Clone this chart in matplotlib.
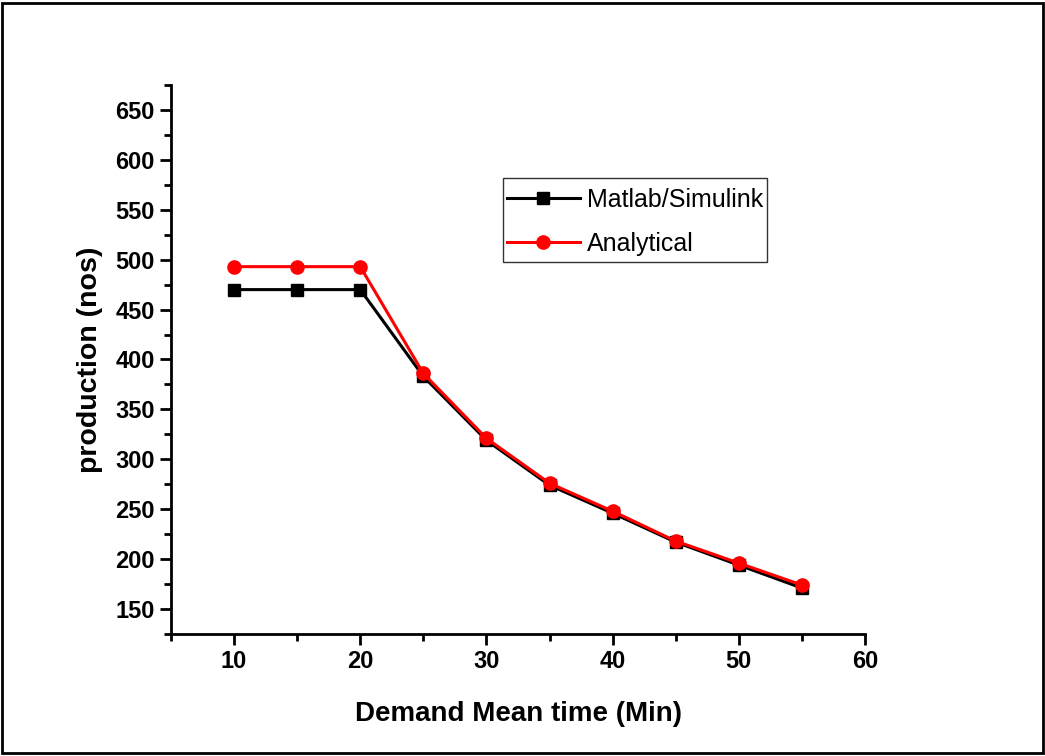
import matplotlib
matplotlib.use("Agg")
import matplotlib.pyplot as plt
from matplotlib.patches import Rectangle
from matplotlib.ticker import MultipleLocator

demand_time = [10, 15, 20, 25, 30, 35, 40, 45, 50, 55]
matlab = [470, 470, 470, 383, 319, 274, 246, 217, 194, 171]
analytical = [493, 493, 493, 386, 321, 276, 248, 218, 196, 174]

plt.rcParams['font.family'] = ['Liberation Sans', 'DejaVu Sans']

fig = plt.figure(figsize=(10.45, 7.56), dpi=100)
ax = fig.add_axes([0.1636, 0.1614, 0.6642, 0.7262])

ax.plot(demand_time, matlab, color='black', marker='s', markersize=9, linewidth=2.2,
        label='Matlab/Simulink')
ax.plot(demand_time, analytical, color='red', marker='o', markersize=9.5, linewidth=2.2,
        label='Analytical')

ax.set_xlim(5, 60)
ax.set_ylim(125, 675)
ax.xaxis.set_major_locator(MultipleLocator(10))
ax.xaxis.set_minor_locator(MultipleLocator(5))
ax.yaxis.set_minor_locator(MultipleLocator(25))
ax.set_yticks(range(150, 651, 50))

for side in ['top', 'right']:
    ax.spines[side].set_visible(False)
for side in ['left', 'bottom']:
    ax.spines[side].set_linewidth(2)

ax.tick_params(which='major', direction='out', length=8, width=2, labelsize=17)
ax.tick_params(which='minor', direction='out', length=5, width=2)
for lab in ax.get_xticklabels() + ax.get_yticklabels():
    lab.set_fontweight('bold')

ax.set_xlabel('Demand Mean time (Min)', fontsize=20, fontweight='bold', labelpad=20)
ax.set_ylabel('production (nos)', fontsize=20.5, fontweight='bold', labelpad=9)

# legend without frame, box drawn by hand (more room top/bottom than at the sides)
leg = ax.legend(loc='upper left', bbox_to_anchor=(0.4784, 0.820), fontsize=18,
                frameon=False, handlelength=2.9, handletextpad=0.28,
                borderpad=0.16, borderaxespad=0, labelspacing=0.8)

fig.canvas.draw()
bb = leg.get_window_extent()
inv = fig.transFigure.inverted()
(x0, y0), (x1, y1) = inv.transform([(bb.x0, bb.y0 - 2), (bb.x1, bb.y1 + 6)])
fig.patches.append(Rectangle((x0, y0), x1 - x0, y1 - y0, transform=fig.transFigure,
                             fill=False, edgecolor='#333333', linewidth=1))

fig.patches.append(Rectangle((0.002, 0.004), 0.996, 0.992, transform=fig.transFigure,
                             fill=False, edgecolor='black', linewidth=2))

fig.savefig('out.png', dpi=100)
